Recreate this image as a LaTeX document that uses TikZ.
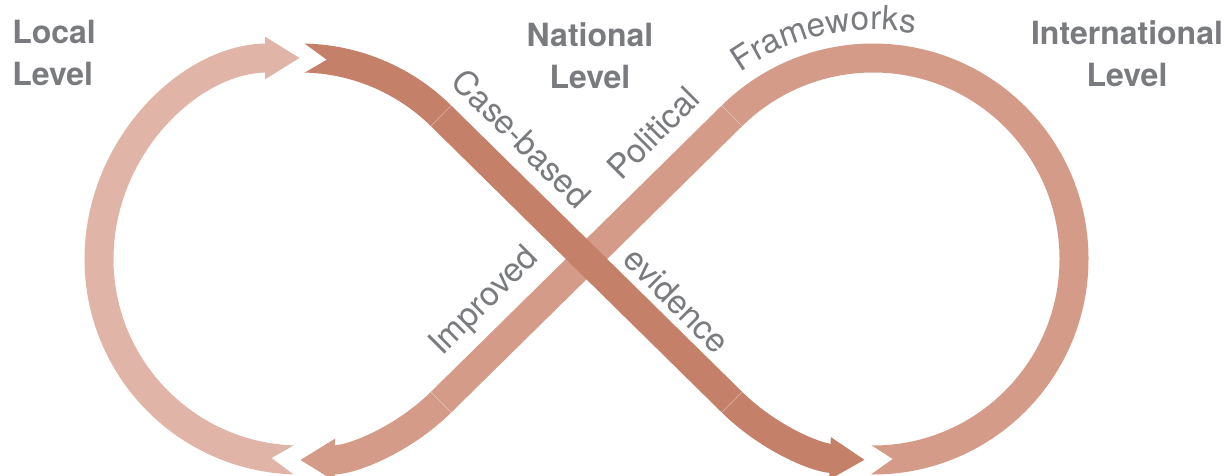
\documentclass[tikz,border=0pt]{standalone}
\usepackage{fontspec}
\setmainfont{TeX Gyre Heros}
\usetikzlibrary{arrows.meta,decorations.text}
\definecolor{bandlight}{HTML}{E0B4A6}
\definecolor{bandmid}{HTML}{D49B88}
\definecolor{banddark}{HTML}{C5806A}
\definecolor{txtgray}{HTML}{797B7E}
\newcommand{\myheadfont}{\fontsize{24}{31.5}\selectfont\bfseries}
\newcommand{\mylabfont}{\fontsize{25}{30}\selectfont}
\begin{document}
\begin{tikzpicture}[x=0.75pt,y=0.75pt,
  band/.style={line width=21.75pt, line cap=butt, -{Triangle[length=26.25pt 0 0,width=30pt 0 0]}},
  notch/.style={fill=white, draw=none},
  seam/.style={draw=white, draw opacity=0.45, line width=0.4pt},
  heading/.style={font=\myheadfont, text=txtgray, inner sep=0pt},
  lab/.style={font=\mylabfont, text=txtgray, inner sep=0pt}]
\useasboundingbox (0,0) rectangle (1226,475);
\coordinate (L) at (300,216);
\coordinate (R) at (873,216);
\coordinate (LT) at ([shift={(L)}]45.44:201);
\coordinate (LB) at ([shift={(L)}]-45.44:201);
\coordinate (RT) at ([shift={(R)}]134.56:201);
\coordinate (RB) at ([shift={(R)}]225.44:201);
% light band: left loop
\draw[band, bandlight] ([shift={(L)}]-91.5:201) arc[start angle=-91.5, end angle=-270, radius=201];
\fill[notch] ([shift={(L)}]-91.1:217) -- ([shift={(L)}]-98.06:201) -- ([shift={(L)}]-91.1:185) -- cycle;
% medium band: right loop and diagonal
\draw[band, bandmid] ([shift={(R)}]269:201) arc[start angle=269, end angle=494.56, radius=201]
  -- (LB) arc[start angle=-45.44, end angle=-90, radius=201];
\fill[notch] ([shift={(R)}]268.8:217) -- ([shift={(R)}]275.56:201) -- ([shift={(R)}]268.8:185) -- cycle;
% dark band: diagonal
\draw[band, banddark] ([shift={(L)}]89:201) arc[start angle=89, end angle=45.44, radius=201]
  -- (RB) arc[start angle=225.44, end angle=267.7, radius=201];
\fill[notch] ([shift={(L)}]89.4:217) -- ([shift={(L)}]82.44:201) -- ([shift={(L)}]89.4:185) -- cycle;
% seams
\draw[seam] ([shift={(L)}]45.44:186.5) -- ([shift={(L)}]45.44:215.5);
\draw[seam] ([shift={(R)}]225.44:186.5) -- ([shift={(R)}]225.44:215.5);
\draw[seam] ([shift={(R)}]134.56:186.5) -- ([shift={(R)}]134.56:215.5);
\draw[seam] ([shift={(L)}]-45.44:186.5) -- ([shift={(L)}]-45.44:215.5);
% headings
\node[heading, align=left, anchor=north west] (local) at (12,455) {Local\\Level};
\node[heading, align=center, anchor=north] (national) at (590,453) {National\\Level};
\node[heading, align=center, anchor=north] (intl) at (1127,455) {International\\Level};
% labels
\node[lab, rotate=-45] (caseb) at (522,337) {Case-based};
\node[lab, rotate=-45] (evid) at (677,175) {evidence};
\node[lab, rotate=45] (polit) at (653,342) {Political};
\node[lab, rotate=45] (impr) at (485,173) {Improved};
\path[decorate, decoration={text along path, text={|\mylabfont\color{txtgray}|Frameworks}, text align=center}]
  ([shift={(R)}]135:229) arc[start angle=135, end angle=70, radius=229];
\end{tikzpicture}
\end{document}
